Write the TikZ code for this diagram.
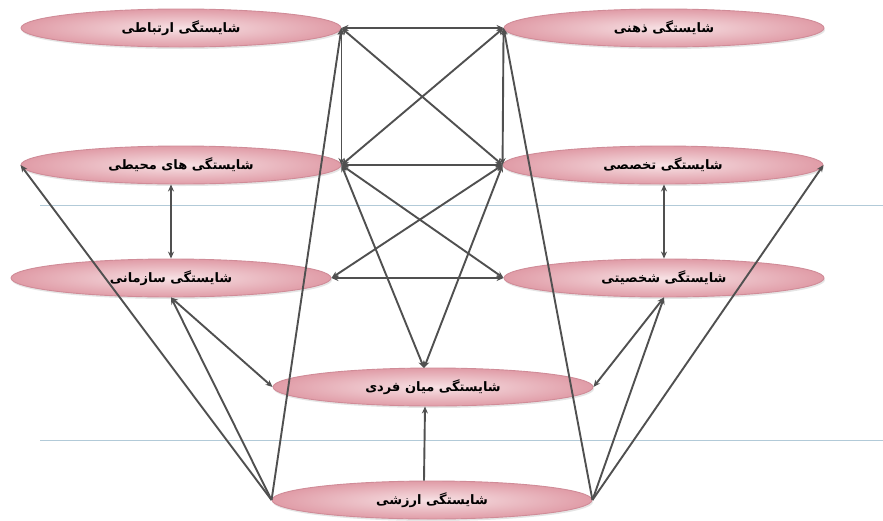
\documentclass[tikz,border=0pt]{standalone}
\usepackage{fontspec}
\usetikzlibrary{shapes.geometric,arrows.meta,shadows}
\newfontfamily\arabicfont[Script=Arabic]{DejaVu Sans}
\TeXXeTstate=1
\definecolor{edgegray}{RGB}{80,80,80}
\definecolor{bluelinecol}{RGB}{178,202,216}
\definecolor{pinkin}{RGB}{247,225,228}
\definecolor{pinkout}{RGB}{224,156,167}
\definecolor{pinkborder}{RGB}{208,140,152}
\begin{document}
\begin{tikzpicture}[x=1pt,y=-1pt,
  oval/.style={ellipse, minimum width=320pt, minimum height=38pt, inner sep=0pt,
    draw=pinkborder, line width=0.9pt, inner color=pinkin, outer color=pinkout,
    drop shadow={opacity=0.2, shadow xshift=1pt, shadow yshift=-2pt},
    font=\arabicfont\bfseries\fontsize{13}{15}\selectfont},
  conn/.style={draw=edgegray, line width=1.9pt,
    {Stealth[length=7pt,width=6pt]}-{Stealth[length=7pt,width=6pt]}},
  oneway/.style={draw=edgegray, line width=1.9pt, -{Stealth[length=7pt,width=6pt]}},
  guide/.style={draw=bluelinecol, line width=0.9pt}]
\useasboundingbox[fill=white] (0,0) rectangle (883,520);
% guide lines
\coordinate (g1a) at (40,205); \coordinate (g1b) at (883,205);
\coordinate (g2a) at (40,440); \coordinate (g2b) at (883,440);
\draw[guide] (g1a) -- (g1b);
\draw[guide] (g2a) -- (g2b);
% nodes
\node[oval] (e1) at (181,28)  {\beginR شایستگی  ارتباطی\endR};
\node[oval] (e2) at (664,28)  {\beginR شایستگی ذهنی\endR};
\node[oval] (e3) at (181,165) {\beginR شایستگی های محیطی\endR};
\node[oval] (e4) at (663,165) {\beginR شایستگی تخصصی\endR};
\node[oval] (e5) at (171,278) {\beginR شایستگی  سازمانی\endR};
\node[oval] (e6) at (664,278) {\beginR شایستگی شخصیتی\endR};
\node[oval] (e7) at (433,387) {\beginR شایستگی میان فردی\endR};
\node[oval] (e8) at (432,500) {\beginR شایستگی ارزشی\endR};
\coordinate (t7) at (424,368);
% square
\draw[conn] (e1.east) -- (e2.west);
\draw[conn] (e1.east) -- (e3.east);
\draw[conn] (e2.west) -- (e4.west);
\draw[conn] (e3.east) -- (e4.west);
\draw[conn] (e1.east) -- (e4.west);
\draw[conn] (e2.west) -- (e3.east);
% crossing to middle
\draw[conn] (e3.east) -- (e6.west);
\draw[conn] (e4.west) -- (e5.east);
\draw[conn] (e3.east) -- (t7);
\draw[conn] (e4.west) -- (t7);
\draw[conn] (e5.east) -- (e6.west);
% verticals
\draw[conn] (e3.south -| e5.north) -- (e5.north);
\draw[conn] (e4.south -| e6.north) -- (e6.north);
\draw[oneway] ([xshift=-8pt]e8.north) -- ([xshift=-8pt]e7.south);
% from bottom node
\draw[oneway] (e8.west) -- (e1.east);
\draw[oneway] (e8.west) -- (e3.west);
\draw[oneway] (e8.west) -- (e5.south);
\draw[oneway] (e8.east) -- (e2.west);
\draw[oneway] (e8.east) -- (e4.east);
\draw[oneway] (e8.east) -- (e6.south);
\draw[conn] (e5.south) -- (e7.west);
\draw[conn] (e6.south) -- (e7.east);
\end{tikzpicture}
\end{document}
